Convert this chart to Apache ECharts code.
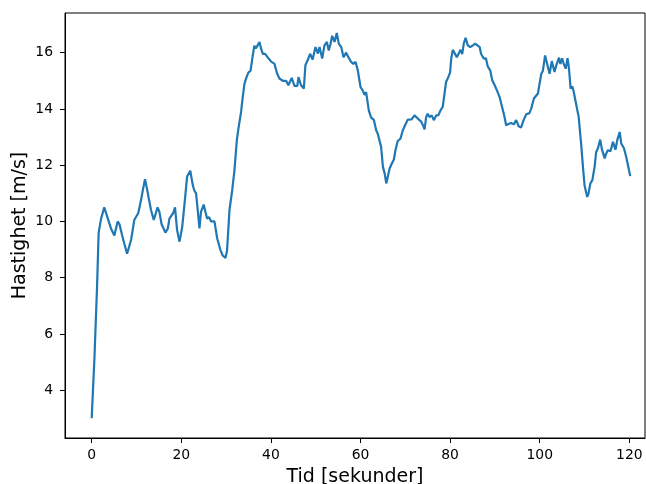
<!DOCTYPE html>
<html>
<head>
<meta charset="utf-8">
<script src="https://cdn.jsdelivr.net/npm/echarts@6/dist/echarts.min.js"></script>
<style>
  html, body { margin: 0; padding: 0; background: #fff; }
  #speed_chart { width: 646px; height: 484px; }
</style>
</head>
<body>
<div id="speed_chart"></div>
<script>
// tid (sekunder) og hastighet (m/s), lest av fra figuren
var tid = [
  0, 0.6, 1.2, 1.55, 2.1, 2.8, 3.2, 3.8, 4.3, 5.05, 5.8, 6.2, 6.8, 7.3, 7.9, 8.2, 8.8, 9.5, 9.9, 10.4,
  11.0, 11.4, 11.9, 12.3, 12.7, 13.25, 13.85, 14.2, 14.7, 15.1, 15.6, 16.45, 17.0, 17.35, 17.7, 18.2, 18.6, 19.05, 19.6, 19.95,
  20.2, 20.7, 21.3, 22.0, 22.55, 22.9, 23.3, 23.7, 24.05, 24.4, 25.0, 25.3, 25.75, 26.2, 26.65, 27.4, 28.0, 28.7, 29.2, 29.85,
  30.2, 30.75, 31.35, 31.85, 32.4, 32.8, 33.35, 33.7, 34.1, 34.6, 35.0, 35.45, 35.7, 35.95, 36.3, 36.6, 37.0, 37.45, 37.8, 38.2,
  38.7, 39.0, 39.45, 40.05, 40.8, 41.4, 41.9, 42.65, 43.4, 43.9, 44.65, 45.25, 45.9, 46.15, 46.7, 47.35, 47.7, 48.2, 48.75, 49.3,
  49.95, 50.5, 50.85, 51.45, 51.95, 52.5, 52.9, 53.3, 53.67, 54.2, 54.7, 55.15, 55.7, 56.2, 56.8, 57.3, 57.9, 58.4, 58.9, 59.4,
  60.0, 60.5, 60.9, 61.25, 61.85, 62.35, 63.0, 63.5, 63.85, 64.2, 64.6, 65.0, 65.4, 65.75, 66.1, 66.5, 67.0, 67.45, 67.8, 68.3,
  68.9, 69.45, 69.95, 70.55, 70.95, 71.4, 72.05, 72.4, 72.95, 73.5, 73.9, 74.3, 74.65, 75.0, 75.4, 75.9, 76.35, 76.9, 77.4, 77.85,
  78.35, 78.75, 79.1, 79.6, 80.0, 80.25, 80.6, 81.0, 81.5, 82.0, 82.3, 82.7, 83.05, 83.45, 83.95, 84.5, 85.1, 85.6, 86.0, 86.6,
  86.9, 87.5, 88.0, 88.4, 88.95, 89.4, 89.95, 90.5, 91.05, 91.6, 92.15, 92.5, 93.0, 93.6, 94.2, 94.75, 95.3, 95.85, 96.4, 97.0,
  97.7, 98.1, 98.7, 99.0, 99.6, 99.97, 100.35, 100.7, 101.2, 101.5, 102.2, 102.7, 103.3, 103.7, 104.3, 104.6, 105.0, 105.35, 105.8, 106.2,
  106.5, 106.9, 107.3, 107.6, 108.1, 108.7, 109.3, 109.65, 110.0, 110.25, 110.6, 110.9, 111.3, 111.75, 112.25, 112.6, 113.0, 113.5, 113.9, 114.5,
  114.8, 115.2, 115.8, 116.35, 116.9, 117.3, 117.85, 118.2, 118.8, 119.3, 119.85, 120.2
]
var hastighet = [
  3.0, 5.1, 7.7, 9.6, 10.1, 10.5, 10.5, 10.0, 9.75, 9.5, 10.0, 9.9, 9.5, 9.2, 8.85, 8.85, 9.35, 10.05, 10.0, 10.3,
  10.75, 11.1, 11.5, 11.2, 10.85, 10.4, 10.05, 10.0, 10.5, 10.35, 9.9, 9.6, 9.75, 10.1, 10.1, 10.3, 10.5, 9.7, 9.28, 9.25,
  9.8, 10.6, 11.6, 11.8, 11.3, 11.1, 11.0, 10.35, 9.75, 10.35, 10.6, 10.4, 10.1, 10.15, 10.0, 10.0, 9.4, 9.0, 8.8, 8.7,
  8.95, 10.4, 11.1, 11.8, 12.9, 13.35, 13.9, 14.4, 14.9, 15.15, 15.3, 15.35, 15.4, 15.9, 16.25, 16.15, 16.25, 16.38, 16.15, 15.96,
  15.96, 16.0, 15.8, 15.68, 15.6, 15.25, 15.08, 15.0, 15.0, 14.84, 15.1, 14.82, 14.82, 15.13, 14.85, 14.72, 15.55, 15.73, 15.96, 15.75,
  16.2, 15.97, 16.2, 15.79, 16.26, 16.38, 16.08, 16.3, 16.6, 16.38, 16.7, 16.32, 16.2, 15.84, 16.0, 15.84, 15.67, 15.6, 15.67, 15.37,
  14.78, 14.65, 14.5, 14.6, 13.95, 13.7, 13.6, 13.24, 13.12, 13.13, 12.65, 11.94, 11.7, 11.35, 11.35, 11.88, 12.06, 12.2, 12.53, 12.86,
  12.94, 13.24, 13.42, 13.62, 13.6, 13.63, 13.77, 13.78, 13.63, 13.56, 13.43, 13.27, 13.71, 13.83, 13.71, 13.77, 13.6, 13.77, 13.78, 13.95,
  14.07, 14.54, 14.96, 15.13, 15.3, 15.79, 16.1, 16.1, 15.84, 16.0, 16.1, 15.95, 16.32, 16.53, 16.26, 16.2, 16.26, 16.32, 16.26, 16.2,
  15.96, 15.79, 15.8, 15.51, 15.37, 15.02, 14.84, 14.64, 14.42, 14.07, 13.71, 13.42, 13.46, 13.5, 13.45, 13.6, 13.38, 13.34, 13.6, 13.81,
  13.85, 14.01, 14.37, 14.3, 14.55, 14.9, 15.25, 15.35, 15.9, 15.88, 15.25, 15.7, 15.31, 15.55, 15.82, 15.6, 15.8, 15.6, 15.43, 15.8,
  15.49, 14.72, 14.8, 14.6, 14.19, 13.71, 12.65, 11.94, 11.29, 11.25, 10.87, 11.0, 11.35, 11.47, 11.94, 12.47, 12.6, 12.91, 12.55, 12.24,
  12.4, 12.53, 12.5, 12.83, 12.55, 12.89, 13.18, 12.77, 12.6, 12.3, 11.88, 11.61
]
var xTicks = [0, 20, 40, 60, 80, 100, 120]
var yTicks = [4, 6, 8, 10, 12, 14, 16]

var punkter = tid.map(function (t, i) {
  return [t, hastighet[i]]
})

var speed_chart = echarts.init(document.getElementById('speed_chart'))
var fontFam = 'DejaVu Sans'

speed_chart_option = {
  animation: false,
  grid: {
    left: 65,
    right: 1,
    top: 13,
    bottom: 46,
    outerBoundsMode: 'none', // ikke krymp plottet for å få plass til navnene
    show: true,
    borderColor: '#000',
    borderWidth: 1,
  },
  xAxis: {
    type: 'value',
    min: -5.96,
    max: 123.5,
    name: 'Tid [sekunder]',
    nameLocation: 'middle',
    nameGap: 30,
    nameMoveOverlap: false,
    nameTextStyle: { color: '#000', fontSize: 19, fontFamily: fontFam },
    axisLine: { show: true, onZero: false, lineStyle: { color: '#000', width: 1 } },
    axisTick: { show: true, inside: false, length: 5, lineStyle: { color: '#000' }, customValues: xTicks },
    axisLabel: { color: '#000', fontSize: 13.9, fontFamily: fontFam, margin: 10, customValues: xTicks },
    splitLine: { show: false },
  },
  yAxis: {
    type: 'value',
    min: 2.3,
    max: 17.41,
    name: 'Hastighet [m/s]',
    nameLocation: 'middle',
    nameGap: 35,
    nameMoveOverlap: false,
    nameTextStyle: { color: '#000', fontSize: 19, fontFamily: fontFam },
    axisLine: { show: true, onZero: false, lineStyle: { color: '#000', width: 1 } },
    axisTick: { show: true, inside: false, length: 5, lineStyle: { color: '#000' }, customValues: yTicks },
    axisLabel: { color: '#000', fontSize: 13.9, fontFamily: fontFam, margin: 12, customValues: yTicks },
    splitLine: { show: false },
  },
  series: [
    {
      type: 'line',
      data: punkter,
      showSymbol: false,
      lineStyle: { color: '#1f77b4', width: 2.2 },
    },
  ],
}
speed_chart.setOption(speed_chart_option)
</script>
</body>
</html>
